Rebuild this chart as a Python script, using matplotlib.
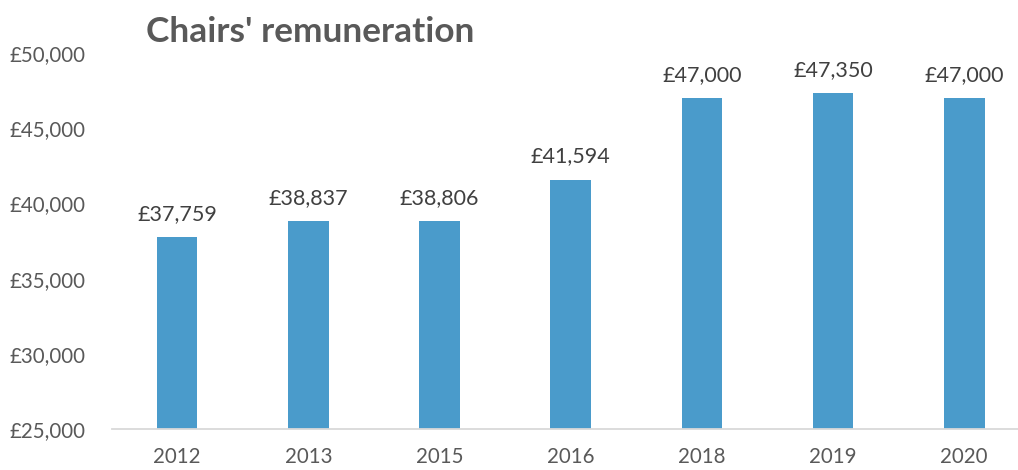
import matplotlib.pyplot as plt
from matplotlib.ticker import FuncFormatter

years = ['2012', '2013', '2015', '2016', '2018', '2019', '2020']
pay = [37759, 38837, 38806, 41594, 47000, 47350, 47000]

plt.rcParams['font.family'] = ['Lato', 'DejaVu Sans']

fig = plt.figure(figsize=(10.18, 4.70), dpi=100)
ax = fig.add_axes([0.1096, 0.0872, 0.8904, 0.7998])

x = list(range(len(years)))
ax.bar(x, pay, width=0.31, color='#4A9BCB', bottom=0)

for xi, v in zip(x, pay):
    ax.annotate(f'£{v:,}', (xi, v), xytext=(0, 9.5), textcoords='offset points',
                ha='center', va='bottom', fontsize=15.5, color='#404040')

ax.set_ylim(25000, 50000)
ax.set_xlim(-0.5, 6.41)
ax.set_yticks(range(25000, 50001, 5000))
ax.yaxis.set_major_formatter(FuncFormatter(lambda v, p: f'£{int(v):,}'))
ax.set_xticks(x)
ax.set_xticklabels(years)

for s in ['top', 'right', 'left']:
    ax.spines[s].set_visible(False)
ax.spines['bottom'].set_color('#D9D9D9')
ax.spines['bottom'].set_linewidth(1.3)
ax.tick_params(axis='both', length=0, labelsize=14.8, labelcolor='#595959')
ax.tick_params(axis='x', pad=13)
ax.tick_params(axis='y', pad=19)

fig.text(0.1434, 0.932, "Chairs' remuneration", fontsize=25.4, fontweight='bold',
         color='#595959', ha='left', va='center')

fig.savefig('out.png', dpi=100)
